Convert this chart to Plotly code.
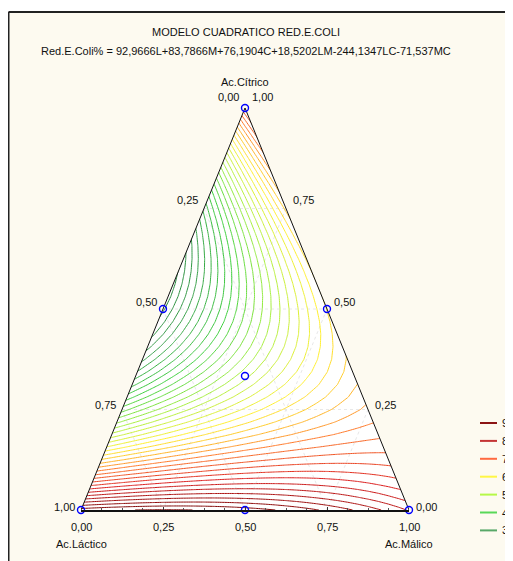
import numpy as np
import plotly.graph_objects as go

# ---------------- data ----------------
title_text = "MODELO CUADRATICO RED.E.COLI"
equation_text = "Red.E.Coli% = 92,9666L+83,7866M+76,1904C+18,5202LM-244,1347LC-71,537MC"
component_names = ["Ac.Láctico", "Ac.Málico", "Ac.Cítrico"]

coef_L = 92.9666
coef_M = 83.7866
coef_C = 76.1904
coef_LM = 18.5202
coef_LC = -244.1347
coef_MC = -71.537

design_L = [1, 0, 0, 0.5, 0.5, 0, 1 / 3]
design_M = [0, 1, 0, 0.5, 0, 0.5, 1 / 3]
design_C = [0, 0, 1, 0, 0.5, 0.5, 1 / 3]

tick_values = [0, 0.25, 0.5, 0.75, 1.0]
tick_labels = ["0,00", "0,25", "0,50", "0,75", "1,00"]

legend_levels = [90, 80, 70, 60, 50, 40, 30]
legend_colors = ["#8B1414", "#C43434", "#FF6A40", "#FFF645", "#B6F848", "#58D858", "#58A868"]

contour_start, contour_end, contour_step = 20, 96, 2
scale_stops = [(20, "#1C7A34"), (30, "#36A048"), (40, "#3CD03C"), (50, "#A8F040"),
               (60, "#FFF030"), (65, "#FFC428"), (70, "#FF7A2A"), (80, "#DC1E1E"),
               (90, "#8E0A0A"), (96, "#6A0000")]

# ---------------- helpers ----------------
CREAM = "#FDFAF0"
FONT = "Liberation Sans, Arial, sans-serif"
OFF = 8                      # page body margin
W, H = 513 - OFF, 561 - OFF
ML, MT = 81 - OFF, 108 - OFF
PW, PH = 328, 402
MR, MB = W - ML - PW, H - MT - PH


def to_xy(L, M, C):
    return M + C / 2.0, C


def model(L, M, C):
    return (coef_L * L + coef_M * M + coef_C * C + coef_LM * L * M
            + coef_LC * L * C + coef_MC * M * C)


def px2paper(sx, sy):
    """screen pixel -> paper coordinates"""
    fx, fy = sx - OFF, sy - OFF
    return (fx - ML) / PW, (H - MB - fy) / PH


# ---------------- contour grid ----------------
N = 33
xs = np.linspace(0, 1, N)
ys = np.linspace(0, 1, N)
X, Y = np.meshgrid(xs, ys)
Cg = Y
Mg = X - Y / 2.0
Lg = 1 - Mg - Cg
Z = model(Lg, Mg, Cg)

span = contour_end - contour_start
colorscale = [[(v - contour_start) / span, c] for v, c in scale_stops]

fig = go.Figure()

fig.add_trace(go.Contour(
    x=xs, y=ys, z=Z,
    contours=dict(start=contour_start, end=contour_end, size=contour_step, coloring="lines"),
    colorscale=colorscale, showscale=False, line=dict(width=1, smoothing=0),
    hoverinfo="skip", xaxis="x", yaxis="y",
))

# masks outside triangle (on an overlaid subplot so they sit above the contours)
(lx, ly), (rx, ry), (tx_, ty_) = to_xy(1, 0, 0), to_xy(0, 1, 0), to_xy(0, 0, 1)
mask_left = ([lx, tx_, tx_, lx - 0.3, lx - 0.3, lx], [ly, ty_, ty_ + 0.3, ty_ + 0.3, ly - 0.3, ly - 0.3])
mask_right = ([rx, tx_, tx_, rx + 0.3, rx + 0.3, rx], [ry, ty_, ty_ + 0.3, ty_ + 0.3, ry - 0.3, ry - 0.3])
for mx, my in (mask_left, mask_right):
    fig.add_trace(go.Scatter(x=mx, y=my, fill="toself", fillcolor=CREAM, mode="lines",
                             line=dict(width=0, color=CREAM), hoverinfo="skip",
                             showlegend=False, xaxis="x2", yaxis="y2"))
# triangle outline
fig.add_trace(go.Scatter(x=[lx, tx_, rx], y=[ly, ty_, ry], mode="lines",
                         line=dict(color="#111111", width=1), hoverinfo="skip",
                         showlegend=False, cliponaxis=False, xaxis="x2", yaxis="y2"))

# design points
dx, dy = zip(*[to_xy(l, m, c) for l, m, c in zip(design_L, design_M, design_C)])
fig.add_trace(go.Scatter(x=list(dx), y=list(dy), mode="markers", cliponaxis=False,
                         marker=dict(symbol="circle-open", size=7, color="#0000FF",
                                     line=dict(width=1.4, color="#0000FF")),
                         showlegend=False, xaxis="x2", yaxis="y2"))

shapes = []
# faint internal grid
for g in [0.25, 0.5, 0.75]:
    segs = [
        (to_xy(1 - g, 0, g), to_xy(0, 1 - g, g)),   # C = g
        (to_xy(g, 0, 1 - g), to_xy(g, 1 - g, 0)),   # L = g
        (to_xy(0, g, 1 - g), to_xy(1 - g, g, 0)),   # M = g
    ]
    for (x0, y0), (x1, y1) in segs:
        shapes.append(dict(type="line", xref="x", yref="y", x0=x0, y0=y0, x1=x1, y1=y1,
                           line=dict(color="#E8E8E8", width=1, dash="dot"), layer="below"))

# outer frame: white strip on top + dark border
xa, ya = px2paper(OFF, OFF)
xb, yb = px2paper(W + OFF, 12)
shapes.append(dict(type="rect", xref="paper", yref="paper", x0=xa, x1=xb, y0=yb, y1=ya,
                   fillcolor="white", line=dict(width=0), layer="below"))
bx, by = px2paper(8.5, 12)
ex, ey = px2paper(W + OFF + 5, H + OFF + 5)
shapes.append(dict(type="line", xref="paper", yref="paper", x0=bx, x1=ex, y0=by, y1=by,
                   line=dict(color="#222222", width=2)))
shapes.append(dict(type="line", xref="paper", yref="paper", x0=bx, x1=bx, y0=by, y1=ey,
                   line=dict(color="#222222", width=2)))

annotations = []
fs = 11


def ann(text, x, y, xs=0, ys=0, xanchor="center", xref="x", yref="y", size=fs):
    annotations.append(dict(text=text, x=x, y=y, xref=xref, yref=yref, xshift=xs, yshift=ys,
                            xanchor=xanchor, yanchor="middle", showarrow=False,
                            font=dict(family=FONT, size=size, color="#111111")))


for v, t in zip(tick_values, tick_labels):
    # left side: Lactico fraction
    x, y = to_xy(v, 0, 1 - v)
    ann(t, x, y, xs=-4, ys=3 + 8 * (1 - v), xanchor="right")
    # right side: Citrico fraction
    x, y = to_xy(0, 1 - v, v)
    ann(t, x, y, xs=5, ys=3 + 8 * v, xanchor="left")
    # bottom: Malico fraction
    x, y = to_xy(1 - v, v, 0)
    ann(t, x, y, ys=-17)

ann(component_names[0], lx, ly, ys=-34)
ann(component_names[1], rx, ry, ys=-34)
ann(component_names[2], tx_, ty_, ys=26)

px_, py_ = px2paper(246, 32)
ann(title_text, px_, py_, xref="paper", yref="paper")
px_, py_ = px2paper(246, 51)
ann(equation_text, px_, py_, xref="paper", yref="paper")

# legend
for i, (lev, col) in enumerate(zip(legend_levels, legend_colors)):
    sy = 423 + i * 17.9
    lx0, lyy = px2paper(480, sy)
    lx1, _ = px2paper(497, sy)
    shapes.append(dict(type="line", xref="paper", yref="paper", x0=lx0, x1=lx1, y0=lyy, y1=lyy,
                       line=dict(color=col, width=2)))
    tpx, _ = px2paper(500, sy)
    ann(str(lev), tpx, lyy, xanchor="left", xref="paper", yref="paper")

fig.update_layout(
    width=W, height=H,
    margin=dict(l=ML, r=MR, t=MT, b=MB),
    paper_bgcolor=CREAM, plot_bgcolor="white",
    shapes=shapes, annotations=annotations, showlegend=False,
    xaxis=dict(range=[0, 1], showgrid=False, zeroline=False, showline=False, showticklabels=False,
               ticks=""),
    yaxis=dict(range=[0, 1], visible=False),
    xaxis2=dict(range=[0, 1], overlaying="x", showgrid=False, zeroline=False, showline=True,
                linecolor="#111111", linewidth=2, ticks="inside", tickvals=tick_values,
                ticklen=3, tickcolor="#333333", showticklabels=False, side="bottom",
                minor=dict(dtick=0.0625, ticks="inside", ticklen=2, tickcolor="#555555")),
    yaxis2=dict(range=[0, 1], overlaying="y", visible=False),
)

fig.write_html("out.html")
